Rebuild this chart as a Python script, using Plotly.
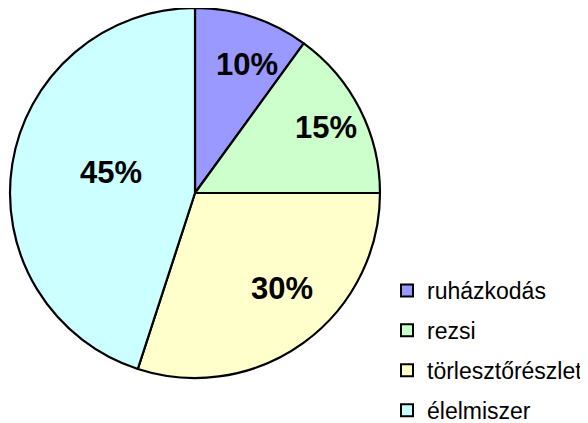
import math
import plotly.graph_objects as go

categories = ["ruházkodás", "rezsi", "törlesztőrészlet", "élelmiszer"]
values = [10, 15, 30, 45]
colors = ["#9999FF", "#CCFFCC", "#FFFFCC", "#CCFFFF"]
# label placement inside each slice: radius fraction and position along the slice's arc
label_radius = [0.75, 0.79, 0.70, 0.47]
label_arc_pos = [0.61, 0.51, 0.44, 0.53]

W, H = 588, 423
OFF = 8  # page body margin in the browser
cx_px, cy_px, r_px = 195 - OFF, 193 - OFF, 185
dom_x = [(cx_px - r_px) / W, (cx_px + r_px) / W]
dom_y = [(H - cy_px - r_px) / H, (H - cy_px + r_px) / H]

fig = go.Figure()
fig.add_trace(go.Pie(
    labels=categories, values=values, sort=False, direction="clockwise",
    rotation=0, marker=dict(colors=colors, line=dict(color="black", width=2.2)),
    textinfo="none", hoverinfo="label+percent", showlegend=False,
    domain=dict(x=dom_x, y=dom_y),
))

# percentage labels placed from cumulative angles
cx = (dom_x[0] + dom_x[1]) / 2
cy = (dom_y[0] + dom_y[1]) / 2
rx = (dom_x[1] - dom_x[0]) / 2
ry = (dom_y[1] - dom_y[0]) / 2
total = sum(values)
cum = 0
for v, rf, af in zip(values, label_radius, label_arc_pos):
    ang = (cum + v * af) / total * 2 * math.pi
    cum += v
    fig.add_annotation(
        x=cx + rf * rx * math.sin(ang), y=cy + rf * ry * math.cos(ang),
        xref="paper", yref="paper", showarrow=False,
        xanchor="center", yanchor="middle",
        text=f"<b>{round(v / total * 100)}%</b>",
        font=dict(family="Liberation Sans, Arial", size=31, color="black"),
    )

for c, col in zip(categories, colors):
    fig.add_trace(go.Scatter(
        x=[None], y=[None], mode="markers", name=c, legendgroup=c,
        marker=dict(symbol="square", size=12, color=col,
                    line=dict(color="black", width=2)),
    ))

fig.update_layout(
    width=W, height=H, margin=dict(l=0, r=0, t=0, b=0, autoexpand=False),
    paper_bgcolor="white", plot_bgcolor="white",
    xaxis=dict(visible=False), yaxis=dict(visible=False),
    font=dict(family="Liberation Sans, Arial", color="black"),
    legend=dict(x=379 / W, y=(H - 261) / H, xanchor="left", yanchor="top",
                font=dict(size=23), tracegroupgap=7,
                itemwidth=30, bgcolor="rgba(0,0,0,0)"),
)

fig.write_html("out.html")
